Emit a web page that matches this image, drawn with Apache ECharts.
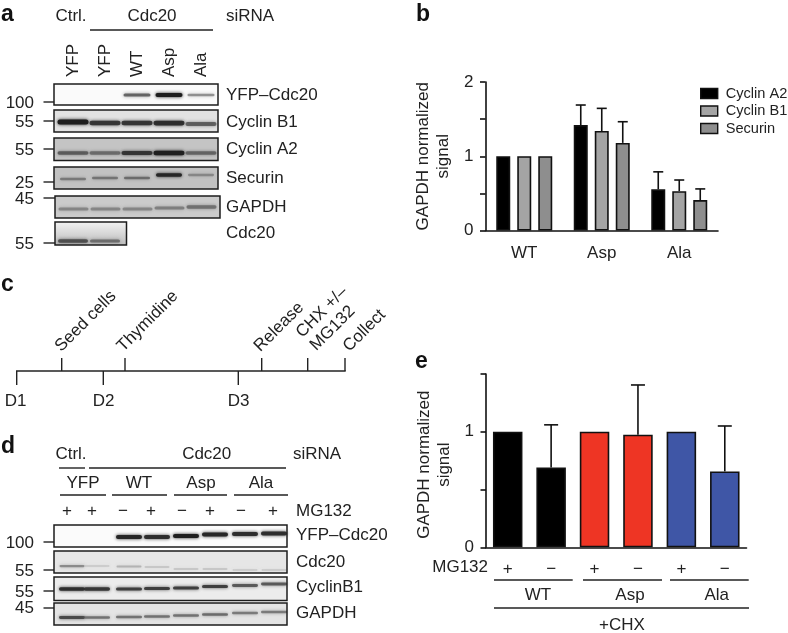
<!DOCTYPE html>
<html><head><meta charset="utf-8">
<style>html,body{margin:0;padding:0;background:#fff}#c{width:788px;height:633px}</style>
<script src="https://cdn.jsdelivr.net/npm/echarts@6/dist/echarts.min.js"></script>
</head><body><div id="c"></div>
<script>
// ---- panel b data
const bCategories = ['WT','Asp','Ala'];
const bSeriesNames = ['Cyclin A2','Cyclin B1','Securin'];
const cyclinA2 = [1, 1.42, 0.555];
const cyclinB1 = [1, 1.34, 0.53];
const securin  = [1, 1.18, 0.41];
const cyclinA2Top = [null, 1.69, 0.79];
const cyclinB1Top = [null, 1.645, 0.68];
const securinTop  = [null, 1.465, 0.56];
// ---- panel e data
const eCategories = ['+','\u2212','+','\u2212','+','\u2212'];
const eValues = [1, 0.69, 1, 0.975, 1, 0.657];
const eTops   = [null, 1.06, null, 1.405, null, 1.05];
const eGroups = ['WT','Asp','Ala'];
// ---- blot band intensities (0..1) per lane
const aYfp=[0,0,.6,1,.35], aB1=[1,.85,.85,.9,.6], aA2=[.6,.5,.85,1,.55], aSec=[.4,.45,.5,.95,.3], aGapdh=[.55,.55,.55,.6,.7], aCdc=[.8,.6];
const dYfp=[0,0,.95,.9,1,.95,.9,.9], dCdc=[.5,.03,.2,.1,.1,.1,.03,.03], dB1=[.9,.85,.8,.8,.8,.8,.65,.65], dGapdh=[.85,.6,.6,.6,.6,.65,.55,.55];
// ---- text lists
const aLanes=['YFP','YFP','WT','Asp','Ala'];
const aBlotNames=['YFP\u2013Cdc20','Cyclin B1','Cyclin A2','Securin','GAPDH','Cdc20'];
const dBlotNames=['YFP\u2013Cdc20','Cdc20','CyclinB1','GAPDH'];
const dMg=['+','+','\u2212','+','\u2212','+','\u2212','+'];
const ink='#222';
const FONT='"Liberation Sans",Arial,sans-serif';
const g=[];
function T(x,y,text,o={}){g.push({type:'text',x,y,rotation:o.rot||0,silent:true,z:5,style:{text,fill:o.fill||ink,
 font:(o.bold?'bold ':'')+(o.size||17)+'px '+FONT,textAlign:o.align||'left',textVerticalAlign:'middle'}});}
function L(x1,y1,x2,y2,w){g.push({type:'line',silent:true,z:4,shape:{x1,y1,x2,y2},style:{stroke:ink,lineWidth:w||1.4}});}
function blot(x,y,w,h,bg,lanes,vals,bw,bh,ys,dark){
 g.push({type:'rect',silent:true,z:1,shape:{x,y,width:w,height:h},style:{fill:bg}});
 vals.forEach((v,i)=>{ if(v<=0)return;
  const by=ys[i], a=Math.min(1,v), c=Math.round((dark||30)+(1-a)*110);
  const col=`rgba(${c},${c},${c},${.45+.55*a})`;
  g.push({type:'rect',silent:true,z:2,shape:{x:lanes[i]-bw/2,y:by-(bh/2)*(.5+.5*a),width:bw,height:bh*(.5+.5*a),r:bh/2},
   style:{fill:col,shadowColor:col,shadowBlur:3.5}});
 });
 g.push({type:'rect',silent:true,z:3,shape:{x,y,width:w,height:h},style:{fill:'transparent',stroke:'#1c1c1c',lineWidth:1.5}});
}
const fade=(top,bottom)=>({type:'linear',x:0,y:0,x2:0,y2:1,colorStops:[{offset:0,color:top},{offset:1,color:bottom}]});
// panel letters
[['a',1,15],['b',416,15],['c',1,285],['d',1,447],['e',415,362]].forEach(p=>T(p[1],p[2],p[0],{bold:true,size:23,fill:'#111'}));
// panel a
T(71,16,'Ctrl.',{align:'center'});T(152,16,'Cdc20',{align:'center'});T(226,16,'siRNA');L(90,30,213,30);
const aX=[73,105,137,169,201];
aLanes.forEach((s,i)=>T(aX[i],77,s,{rot:Math.PI/2}));
const rep=(n,v)=>Array(n).fill(v);
blot(54,84,164,21,'#fafafa',aX,aYfp,27,4,rep(5,95));
blot(54,110,164,22,'#e2e2e2',aX,aB1,31,5,[122,123,123,123,124]);
blot(54,138,164,22.5,'#c4c4c4',aX,aA2,31,4.5,[153,153,153,153,153]);
blot(54,167,164,22,'#c2c2c2',aX,aSec,26,3.5,[179,178,178,175,175]);
blot(55,196,165,22,'#cbcbcb',aX.map(v=>v+.5),aGapdh,30,4,[209,209,209,208,207],70);
blot(55,222,71.5,23,fade('#f2f2f2','#bcbcbc'),[73,105],aCdc,30,4,[241,241],50);
[[95,0],[122,1],[149,2],[178,3],[207,4],[233,5]].forEach(p=>T(226,p[0],aBlotNames[p[1]]));
[['100',103,102,54],['55',122,121,54],['55',150.5,149,54],['25',183,182,54],['45',199,198,55],['55',244,243,55]].forEach(m=>{T(34,m[1],m[0],{align:'right'});L(43.5,m[2],m[3],m[2]);});
// panel c
L(16,371,345.7,371);
[61.7,125,261.7,307.7,345].forEach(x=>L(x,358,x,371));
[16.7,103.3,238.3].forEach(x=>L(x,371,x,385));
[['D1',15.7],['D2',103.5],['D3',238.7]].forEach(p=>T(p[1],401,p[0],{align:'center'}));
const R=Math.PI/4;
T(58,349,'Seed cells',{rot:R});T(120,349,'Thymidine',{rot:R});T(257,349,'Release',{rot:R});
T(299,335,'CHX +/\u2013',{rot:R});T(313,348,'MG132',{rot:R});T(346,349,'Collect',{rot:R});
// panel d
T(71,454,'Ctrl.',{align:'center'});T(206.7,454,'Cdc20',{align:'center'});T(293,454,'siRNA');
L(59,468,85,468);L(89,468,286,468);
[['YFP',83],['WT',139],['Asp',201],['Ala',261]].forEach(p=>T(p[1],483,p[0],{align:'center'}));
[[60,106],[112,167],[174,227],[234,288]].forEach(p=>L(p[0],495,p[1],495));
const dX=[72,97,129,157,186,215,245,274];
const dSym=[67,92,123,151,182,210,241,273];
dMg.forEach((s,i)=>T(dSym[i],511,s,{align:'center'}));T(296,511,'MG132');
blot(54,525,233,22,'#fbfbfb',dX,dYfp,26,4,[537,537,537,537,536,534.5,534,533.5]);
blot(54,551,233,22,'#e6e6e6',dX,dCdc,25,3,[566,566,566.5,567,569,569,570,570],60);
blot(54,577,233,23.5,'#ececec',dX,dB1,26,3.6,[589,589,589,588.5,588,586.5,585.5,584]);
blot(54,603,233,22,'#e4e4e4',dX,dGapdh,26,3.2,[617.5,617.5,617,616.5,615.5,614.5,613,612],50);
[[535,0],[562,1],[587,2],[613,3]].forEach(p=>T(296,p[0],dBlotNames[p[1]]));
[['100',543,542],['55',571,570],['55',592,591],['45',608,608]].forEach(m=>{T(34,m[1],m[0],{align:'right'});L(43.5,m[2],54,m[2]);});
// panel e annotations
[[494,572.7],[583,662],[670,748.7]].forEach(p=>L(p[0],580,p[1],580));
[[538],[630],[716.7]].forEach((p,i)=>T(p[0],595.7,eGroups[i],{align:'center'}));
L(494,608,749,608);T(622,625,'+CHX',{align:'center'});T(488,567,'MG132',{align:'right'});

function errSeries(xi,yi,tops,bases,offset){
 return {type:'custom',xAxisIndex:xi,yAxisIndex:yi,z:1,silent:true,
  data:tops.map((t,i)=>[i,bases[i],t===null?bases[i]:t]),
  encode:{x:0,y:[1,2]},
  renderItem(p,api){
   const i=api.value(0); if(tops[i]===null)return null;
   const a=api.coord([i,api.value(1)]),b=api.coord([i,api.value(2)]),x=a[0]+offset,cap=xi===0?5:7;
   const st={stroke:'#111',lineWidth:1.6,fill:'none'};
   return {type:'group',children:[
    {type:'line',shape:{x1:x,y1:a[1],x2:x,y2:b[1]},style:st},
    {type:'line',shape:{x1:x-cap,y1:b[1],x2:x+cap,y2:b[1]},style:st}]};
  }};
}
const axisLine={lineStyle:{color:'#111',width:1.6}};
const tick={length:5.5,lineStyle:{color:'#111',width:1.6}};
const lab={color:ink,fontFamily:FONT,fontSize:17};
const nameStyle={color:ink,fontFamily:FONT,fontSize:17,lineHeight:20};
const bBar=(name,data,col)=>({type:'bar',name,data,xAxisIndex:0,yAxisIndex:0,barWidth:14,barGap:'50%',z:2,
  itemStyle:{color:col,borderColor:'#111',borderWidth:1.6}});
const eColors=['#000','#000','#ee3524','#ee3524','#3f56a6','#3f56a6'];
echarts.init(document.getElementById('c'),null,{renderer:'canvas'}).setOption({
 animation:false,backgroundColor:'#fff',
 grid:[{left:485.5,top:82,width:232.5,height:148.5},{left:486,top:374,width:260.5,height:173.3}],
 legend:{data:bSeriesNames.map(name=>({name,icon:'rect'})),orient:'vertical',left:700,top:86,padding:0,itemWidth:17,itemHeight:10,itemGap:2.5,
  itemStyle:{borderColor:'#111',borderWidth:1.4},
  textStyle:{color:ink,fontFamily:FONT,fontSize:14.6,padding:[0,0,0,3]}},
 xAxis:[
  {type:'category',gridIndex:0,data:bCategories,axisLine,axisTick:{...tick,alignWithLabel:true},axisLabel:{...lab,margin:14}},
  {type:'category',gridIndex:1,data:eCategories,axisLine,axisTick:{...tick,alignWithLabel:true},axisLabel:{...lab,margin:14}}],
 yAxis:[
  {type:'value',gridIndex:0,min:0,max:2,interval:.5,splitLine:{show:false},axisLine:{show:true,...axisLine},axisTick:{show:true,...tick},
   axisLabel:{...lab,margin:12,formatter:v=>Number.isInteger(v)?String(v):''},
   name:'GAPDH normalized\nsignal',nameLocation:'middle',nameGap:32,nameTextStyle:nameStyle},
  {type:'value',gridIndex:1,min:0,max:1.5,interval:.5,splitLine:{show:false},axisLine:{show:true,...axisLine},axisTick:{show:true,...tick},
   axisLabel:{...lab,margin:12,formatter:v=>Number.isInteger(v)?String(v):''},
   name:'GAPDH normalized\nsignal',nameLocation:'middle',nameGap:32,nameTextStyle:{...nameStyle,padding:[0,8,0,0]}}],
 series:[
  errSeries(0,0,cyclinA2Top,cyclinA2,-21),errSeries(0,0,cyclinB1Top,cyclinB1,0),errSeries(0,0,securinTop,securin,21),
  bBar(bSeriesNames[0],cyclinA2,'#000'),bBar(bSeriesNames[1],cyclinB1,'#a4a4a4'),bBar(bSeriesNames[2],securin,'#8e8e8e'),
  errSeries(1,1,eTops,eValues,0),
  {type:'bar',xAxisIndex:1,yAxisIndex:1,barWidth:29.5,z:2,
   data:eValues.map((v,i)=>({value:v,itemStyle:{color:eColors[i],borderColor:'#111',borderWidth:1.6}}))}
 ],
 graphic:g
});
</script></body></html>
